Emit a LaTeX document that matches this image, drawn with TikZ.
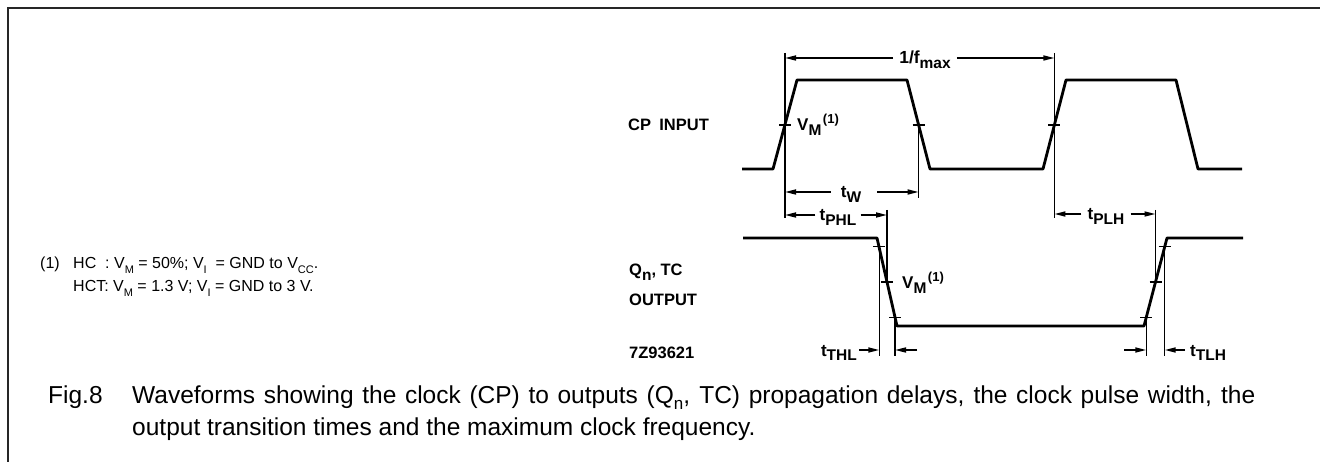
\documentclass[tikz,border=0pt]{standalone}
\usepackage{fontspec}
\setmainfont{Liberation Sans}
\usetikzlibrary{arrows.meta}
\newcommand{\sbs}[2][12]{\raisebox{-0.28em}{\fontsize{#1}{#1}\selectfont #2}}
\newcommand{\sps}[1]{\raisebox{0.45em}{\fontsize{13}{13}\selectfont #1}}
\newcommand{\tlab}[1]{{\fontsize{17}{17}\selectfont t}\raisebox{-0.3em}{\fontsize{15.5}{15.5}\selectfont #1}}
\begin{document}
\begin{tikzpicture}[x=1pt,y=-1pt,
  frame/.style={line width=2pt, draw=black!85},
  wave/.style={line width=2.8pt, line join=round},
  guide/.style={line width=1.1pt},
  dim/.style={line width=1.6pt, -{Triangle[length=11pt,width=5pt]}},
  tickmark/.style={line width=1.3pt},
  lab/.style={font=\fontsize{16.5}{18}\selectfont\bfseries, inner sep=0pt},
  note/.style={font=\fontsize{16}{18}\selectfont, inner sep=0pt, anchor=base west},
  capt/.style={font=\fontsize{24.5}{28}\selectfont, inner sep=0pt, anchor=base west}]
\useasboundingbox (0,0) rectangle (1320,462);
% frame
\draw[frame] (8,462) -- (8,8) -- (1320,8);

% waveforms
\draw[wave] (742,169) -- (773,169) -- (797,80) -- (907,80) -- (930,169) -- (1043,169) -- (1066,80) -- (1176,80) -- (1198,169) -- (1242,169);
\draw[wave] (743,238) -- (877,238) -- (897,326) -- (1144,326) -- (1167,238) -- (1243,238);

% characteristic points
\coordinate (c1) at (785,125);
\coordinate (c2) at (918.6,125);
\coordinate (c3) at (1054.4,125);
\coordinate (o1) at (879.3,246.8);
\coordinate (o2) at (887,282);
\coordinate (o3) at (895,317.2);
\coordinate (o4) at (1146.3,317.2);
\coordinate (o5) at (1155.5,282);
\coordinate (o6) at (1164.7,246.8);

% ticks
\foreach \p in {c1,c2,c3,o1,o2,o3,o4,o5,o6}
  \draw[tickmark] ([xshift=-6pt]\p) -- ([xshift=6pt]\p);

% guide lines
\coordinate (g1t) at (785,53);   \coordinate (g1b) at (785,218);
\coordinate (g2b) at (918.6,198);
\coordinate (g3t) at (1054.4,53); \coordinate (g3b) at (1054.4,218);
\coordinate (g4t) at (887,210);
\coordinate (g5t) at (1155.5,210);
\coordinate (g6b) at (879.3,356);
\coordinate (g7b) at (895,356);
\coordinate (g8b) at (1146.3,356);
\coordinate (g9b) at (1164.7,356);
\draw[guide] (g1t) -- (g1b);
\draw[guide] (c2) -- (g2b);
\draw[guide] (g3t) -- (g3b);
\draw[guide] (g4t) -- (o2);
\draw[guide] (g5t) -- (o5);
\draw[guide] (o1) -- (g6b);
\draw[guide] (o3) -- (g7b);
\draw[guide] (o4) -- (g8b);
\draw[guide] (o6) -- (g9b);

% arrow end points
\coordinate (fL) at (785,58);   \coordinate (fR) at (1054.4,58);
\coordinate (wL) at (785,192);  \coordinate (wR) at (918.6,192);
\coordinate (hL) at (785,215);  \coordinate (hR) at (887,215);
\coordinate (lL) at (1054.4,214); \coordinate (lR) at (1155.5,214);
\coordinate (t1) at (879.3,350); \coordinate (t2) at (895,350);
\coordinate (t3) at (1146.3,350); \coordinate (t4) at (1164.7,350);
\coordinate (t2s) at (917,350);
\coordinate (t3s) at (1124,350);

% dimension labels
\node[lab, anchor=base] (fm) at (925,64) {{\fontsize{17.5}{18}\selectfont 1/f}\sbs[15.5]{max}};
\node[lab, anchor=base] (tw) at (851,198) {\tlab{W}};
\node[lab, anchor=base] (tphl) at (838,221) {\tlab{PHL}};
\node[lab, anchor=base] (tplh) at (1106,220) {\tlab{PLH}};
\node[lab, anchor=base east] (tthl) at (857,356) {\tlab{THL}};
\node[lab, anchor=base west] (ttlh) at (1190,356) {\tlab{TLH}};

\draw[dim] ([xshift=-6pt]fm.west |- fL) -- (fL);
\draw[dim] ([xshift=6pt]fm.east |- fR) -- (fR);
\draw[dim] ([xshift=-10pt]tw.west |- wL) -- (wL);
\draw[dim] ([xshift=16pt]tw.east |- wR) -- (wR);
\draw[dim] ([xshift=-4pt]tphl.west |- hL) -- (hL);
\draw[dim] ([xshift=4pt]tphl.east |- hR) -- (hR);
\draw[dim] ([xshift=-6pt]tplh.west |- lL) -- (lL);
\draw[dim] ([xshift=6pt]tplh.east |- lR) -- (lR);
\draw[dim] ([xshift=2pt]tthl.east |- t1) -- (t1);
\draw[dim] (t2s) -- (t2);
\draw[dim] (t3s) -- (t3);
\draw[dim] ([xshift=-5pt]ttlh.west |- t4) -- (t4);

% VM labels
\node[lab, anchor=base west] (vm1) at (797,131) {{\fontsize{17}{17}\selectfont V}\sbs[15.5]{M}\kern1.5pt\sps{(1)}};
\node[lab, anchor=base west] (vm2) at (902,289) {{\fontsize{17}{17}\selectfont V}\sbs[15.5]{M}\kern1.5pt\sps{(1)}};

% signal names
\node[lab, anchor=base west] (cp) at (628,131) {CP\hspace{0.5em}INPUT};
\node[lab, anchor=base west] (qn) at (629,276) {Q\sbs[15.5]{n}, TC};
\node[lab, anchor=base west] (out) at (629,306) {OUTPUT};
\node[lab, anchor=base west] (code) at (629,359) {7Z93621};

% footnote
\node[note] (n1) at (40,269) {(1)};
\node[note] (n2) at (73,269) {HC\ \ : V\sbs[11]{M} = 50\%; V\sbs[11]{I}\ \ = GND to V\sbs[11]{CC}.};
\node[note] (n3) at (73,292) {HCT: V\sbs[11]{M} = 1.3 V; V\sbs[11]{I} = GND to 3 V.};

% caption
\node[capt] (c0) at (48,403) {Fig.8};
\node[capt] (c1t) at (132,403) {\makebox[1123pt][s]{Waveforms showing the clock (CP) to outputs (Q\sbs[17]{n}, TC) propagation delays, the clock pulse width, the}};
\node[capt] (c2t) at (132,435) {output transition times and the maximum clock frequency.};
\end{tikzpicture}
\end{document}
